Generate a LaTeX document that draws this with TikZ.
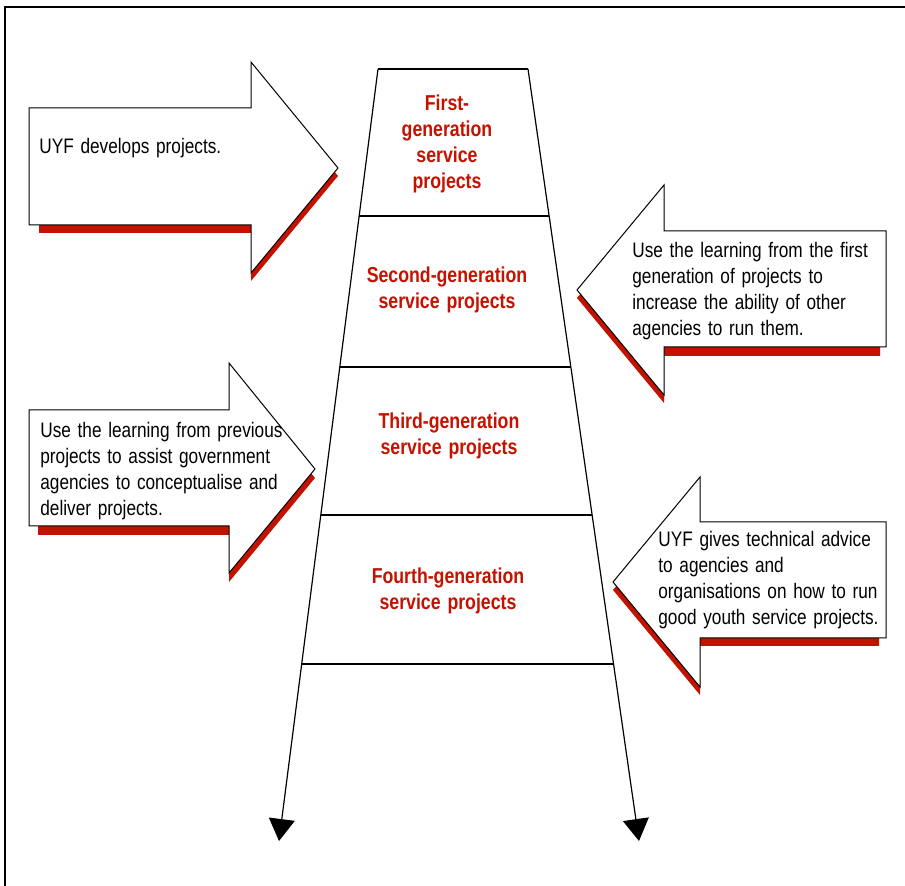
\documentclass[tikz,border=0pt]{standalone}
\usepackage{fontspec}
\setmainfont{Liberation Sans}[FakeStretch=0.82,WordSpace=1.4]
\usetikzlibrary{arrows.meta,calc}
\definecolor{uyfred}{RGB}{196,18,0}
\tikzset{
  gen/.style={text=uyfred,font=\fontsize{10.8}{13}\selectfont\bfseries,align=center,inner sep=0pt},
  note/.style={font=\fontsize{10.5}{13}\selectfont,align=left,anchor=west,inner sep=0pt},
  bigarrow/.style={draw=black,fill=white,line width=0.5pt},
  redshadow/.style={fill=uyfred},
  ladder/.style={line width=0.6pt},
}
\begin{document}
\begin{tikzpicture}[x=0.5pt,y=-0.5pt]
        \useasboundingbox (0,0) rectangle (905,886);
        % Frame
        \draw[line width=0.8pt] (905,7) -- (5,7) -- (5,886);
        % Define the corners of the ladder
        \coordinate (tl) at (378,69);
        \coordinate (tr) at (528,69);
        \coordinate (bl) at (279,841);
        \coordinate (br) at (639,841);
        % Draw the ladder
        \draw[ladder] (tl) -- (tr);
        \draw[ladder,-{Triangle[width=13pt,length=11pt]}] (tl) -- (bl);
        \draw[ladder,-{Triangle[width=13pt,length=11pt]}] (tr) -- (br);
        \foreach \t in {0.1904,0.3860,0.5777,0.7707}
            \draw[ladder] ($(tl)!\t!(bl)$) -- ($(tr)!\t!(br)$);
        % Define the labels of the generations
        \node[gen] (g1) at (447,144) {First-\\generation\\service\\projects};
        \node[gen] (g2) at (447,290) {Second-generation\\service projects};
        \node[gen] (g3) at (449,436) {Third-generation\\service projects};
        \node[gen] (g4) at (448,591) {Fourth-generation\\service projects};
        % Arrows with their shadows
        \fill[redshadow] (39,116) -- (251,116) -- (251,70) -- (338,176) -- (251,281) -- (251,233) -- (39,233) -- cycle;
        \draw[bigarrow] (29,108) -- (251,108) -- (251,62) -- (338,168) -- (251,273) -- (251,225) -- (29,225) -- cycle;
        \fill[redshadow] (880,239) -- (664,239) -- (664,193) -- (577,298) -- (664,403) -- (664,356) -- (880,356) -- cycle;
        \draw[bigarrow] (886,231) -- (664,231) -- (664,185) -- (577,290) -- (664,395) -- (664,347) -- (886,347) -- cycle;
        \fill[redshadow] (38,419) -- (229,419) -- (229,372) -- (315,478) -- (229,582) -- (229,535) -- (38,535) -- cycle;
        \draw[bigarrow] (29,410) -- (229,410) -- (229,363) -- (315,469) -- (229,573) -- (229,526) -- (29,526) -- cycle;
        \fill[redshadow] (879,530) -- (700,530) -- (700,485) -- (613,590) -- (700,695) -- (700,646) -- (879,646) -- cycle;
        \draw[bigarrow] (886,522) -- (700,522) -- (700,477) -- (613,582) -- (700,687) -- (700,638) -- (886,638) -- cycle;
        % Texts in the arrows
        \node[note] (develop) at (39,148) {UYF develops projects.};
        \node[note] (learnfirst) at (632,291) {Use the learning from the first\\generation of projects to\\increase the ability of other\\agencies to run them.};
        \node[note] (learnprev) at (40,471) {Use the learning from previous\\projects to assist government\\agencies to conceptualise and\\deliver projects.};
        \node[note] (advice) at (658,580) {UYF gives technical advice\\to agencies and\\organisations on how to run\\good youth service projects.};
    \end{tikzpicture}
\end{document}
